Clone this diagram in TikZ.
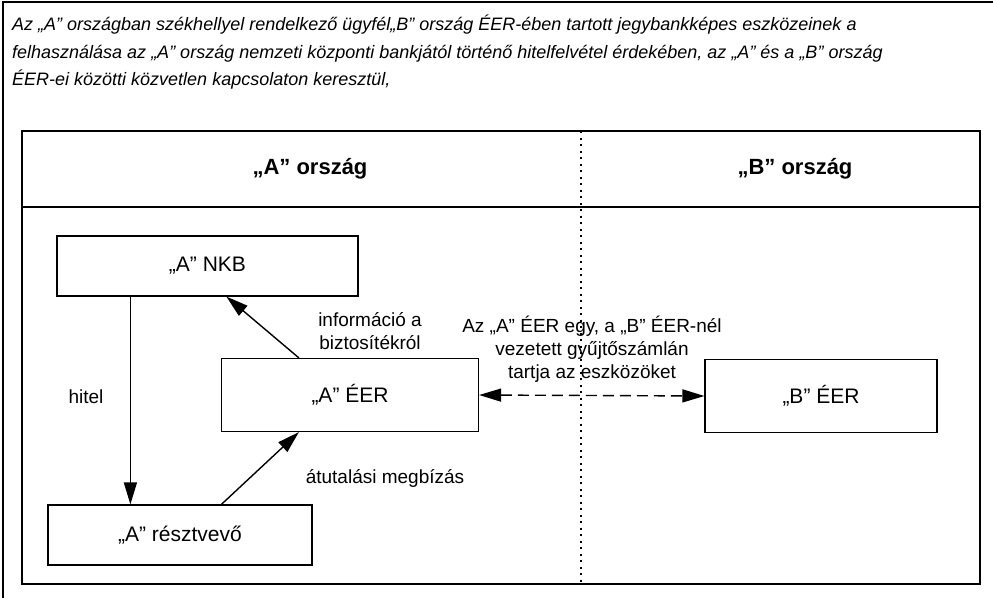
\documentclass[tikz,border=0pt]{standalone}
\usepackage{fontspec}
\setmainfont{Liberation Sans}
\usetikzlibrary{arrows.meta}
\begin{document}
\begin{tikzpicture}[x=1pt, y=-1pt, >={Triangle[length=22pt,width=13pt]}, line join=miter,
	frame/.style={line width=2pt},
	box/.style={draw, line width=1.2pt, minimum width=301pt, minimum height=60pt, inner sep=0pt, font=\fontsize{21}{25}\selectfont},
	lbl/.style={align=center, inner sep=0pt, font=\fontsize{19}{23}\selectfont},
	ttl/.style={anchor=base west, inner sep=0pt, font=\fontsize{18}{22}\selectfont\itshape},
	head/.style={inner sep=0pt, font=\fontsize{22}{26}\selectfont\bfseries},
	link/.style={->, line width=1.4pt}]
	\useasboundingbox (0,0) rectangle (993,597);
	% frames
	\draw[frame] (3,620) -- (3,2) -- (1010,2);
	\draw[frame] (22,131) rectangle (980,584);
	\draw[frame] (22,207) -- (980,207);
	\draw[line width=1.2pt, dash pattern=on 2pt off 4.5pt] (581,131) -- (581,584);
	% title
	\node[ttl] (title1) at (12,30) {Az „A” országban székhellyel rendelkező ügyfél„B” ország ÉER-ében tartott jegybankképes eszközeinek a};
	\node[ttl] (title2) at (12,58) {felhasználása az „A” ország nemzeti központi bankjától történő hitelfelvétel érdekében, az „A” és a „B” ország};
	\node[ttl] (title3) at (12,85) {ÉER-ei közötti közvetlen kapcsolaton keresztül,};
	\node[head] (hdrA) at (310,169) {„A” ország};
	\node[head] (hdrB) at (795,169) {„B” ország};
	% boxes
	\node[box] (nkb) at (207.5,266) {„A” NKB};
	\node[box, minimum width=257pt, minimum height=73pt] (eerA) at (350,395) {„A” ÉER};
	\node[box, minimum width=264pt] (resztvevo) at (180,535) {„A” résztvevő};
	\node[box, minimum width=232pt, minimum height=73pt] (eerB) at (821,396) {„B” ÉER};
	% arrows
	\draw[link] ([xshift=74pt]nkb.south west) -- ([xshift=83pt]resztvevo.north west);
	\draw[link] ([xshift=78pt]eerA.north west) -- ([xshift=170pt]nkb.south west);
	\draw[link] ([xshift=174pt]resztvevo.north west) -- ([xshift=78pt]eerA.south west);
	\draw[link, <->, dash pattern=on 11pt off 6pt] (eerA.east) -- (eerB.west);
	% labels
	\node[lbl] (hitel) at (86,397) {hitel};
	\node[lbl] (info) at (370,331) {információ a\\biztosítékról};
	\node[lbl] (atut) at (385,478) {átutalási megbízás};
	\node[lbl] (gyujto) at (592,349) {Az „A” ÉER egy, a „B” ÉER-nél\\vezetett gyűjtőszámlán\\tartja az eszközöket};
\end{tikzpicture}
\end{document}
